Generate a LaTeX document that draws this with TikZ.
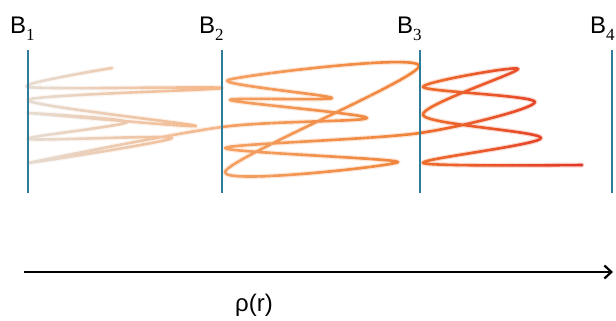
\documentclass[tikz,border=0pt]{standalone}
\usepackage{fontspec}
\setmainfont{Liberation Sans}
\newfontfamily\subfont{Liberation Serif}
\usetikzlibrary{arrows.meta}
\usepackage{xcolor}
\definecolor{waveA}{RGB}{230,220,210}
\definecolor{waveB}{RGB}{245,182,136}
\definecolor{waveC}{RGB}{244,160,98}
\definecolor{waveD}{RGB}{240,130,56}
\definecolor{waveE}{RGB}{238,108,44}
\definecolor{waveF}{RGB}{226,50,38}
\definecolor{barBlue}{RGB}{46,124,152}

\newcommand\barsub[1]{\raisebox{-7pt}{\subfont\fontsize{17}{17}\selectfont#1}}
% the bouncing trajectory, left to right
\newcommand\drawwave[1]{\draw[wave,#1] plot[smooth,tension=.5] coordinates {
 (112,68) (28,87) (222,88) (28,100) (196,126) (28,113) (127,122)
 (28,139) (172,138) (28,163) (222,127)
 (367,118) (230,100) (332,98) (228,80) (419,66) (225,172) (398,162)
 (225,148) (420,133)
 (535,102) (423,87) (518,69) (423,115) (541,138) (423,163) (582,165)};}

\begin{document}
\begin{tikzpicture}[x=1pt,y=-1pt,
wave/.style={line width=2.6pt,line cap=round,line join=round},
glow/.style={line width=5pt,opacity=.2},
barrier/.style={draw=barBlue,line width=2.4pt},
blabel/.style={anchor=base west,inner sep=0pt,font=\fontsize{24}{24}\selectfont},
axis/.style={-{Straight Barb[length=7pt,width=13pt]},line width=2.2pt}
]
\useasboundingbox (0,0) rectangle (616,321);
% colour changes along r
\foreach \xa/\xb/\ca/\cb in {20/222/waveA/waveB,222/420/waveC/waveD,420/600/waveE/waveF}{
 \foreach \k in {0,...,19}{
  \pgfmathsetmacro\xl{\xa+\k*(\xb-\xa)/20}
  \pgfmathsetmacro\xr{\xl+(\xb-\xa)/20+0.2}
  \pgfmathtruncatemacro\p{100*\k/19}
  \begin{scope}
   \clip (\xl,0) rectangle (\xr,321);
   \drawwave{glow,draw=\cb!\p!\ca}
   \drawwave{draw=\cb!\p!\ca}
  \end{scope}
 }
}
% barriers
\foreach \x in {28,222,420,612} \draw[barrier] (\x,50) -- (\x,193);
\node[blabel] (b1) at (10,34) {B\barsub{1}};
\node[blabel] (b2) at (199,34) {B\barsub{2}};
\node[blabel] (b3) at (397,34) {B\barsub{3}};
\node[blabel] (b4) at (590,34) {B\barsub{4}};
% density axis
\coordinate (axstart) at (24,272);
\coordinate (axend) at (613,272);
\draw[axis] (axstart) -- (axend);
\node[anchor=base,inner sep=0pt,font=\fontsize{24}{24}\selectfont] (rho) at (254,311) {ρ(r)};
\end{tikzpicture}
\end{document}
